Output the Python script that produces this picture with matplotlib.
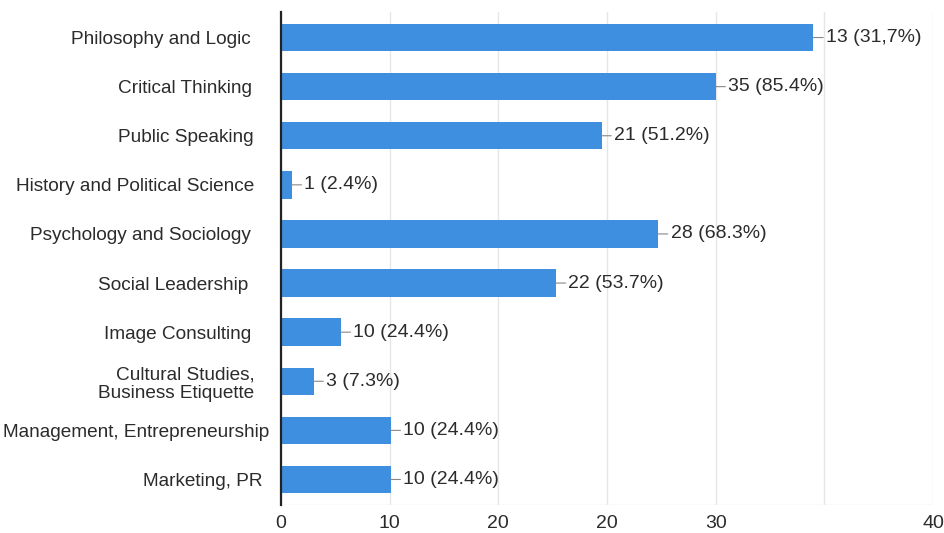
import matplotlib

matplotlib.use("Agg")
import matplotlib.pyplot as plt
import matplotlib.transforms as mtransforms

categories = [
    "Philosophy and Logic",
    "Critical Thinking",
    "Public Speaking",
    "History and Political Science",
    "Psychology and Sociology",
    "Social Leadership",
    "Image Consulting",
    "Cultural Studies,\nBusiness Etiquette",
    "Management, Entrepreneurship",
    "Marketing, PR",
]
# bar lengths as drawn on the axis
bar_values = [49.0, 40.0, 29.5, 1.0, 34.7, 25.3, 5.5, 3.0, 10.1, 10.1]
bar_labels = [
    "13 (31,7%)", "35 (85.4%)", "21 (51.2%)", "1 (2.4%)", "28 (68.3%)",
    "22 (53.7%)", "10 (24.4%)", "3 (7.3%)", "10 (24.4%)", "10 (24.4%)",
]
tick_values = [0, 10, 20, 30, 40, 50, 60]
tick_labels = ["0", "10", "20", "20", "30", "", "40"]
# extra horizontal shift (px) of each category label, to the right
label_shift = [0, 2, 3, 4, 0, -2, 1, 4, 19, 12]

plt.rcParams["font.family"] = ["Liberation Sans", "DejaVu Sans"]
BLUE = "#3f8fe0"
TEXT = "#2b2b2b"

fig = plt.figure(figsize=(9.44, 5.33), dpi=100)
ax = fig.add_axes([281 / 944, 28 / 533, 652 / 944, 493 / 533])

y = list(range(len(categories)))
ax.barh(y, bar_values, height=0.56, color=BLUE, zorder=2)
ax.set_ylim(len(categories) - 0.48, -0.52)
ax.set_xlim(0, 60)

for yi, v, lab in zip(y, bar_values, bar_labels):
    ax.annotate(lab, xy=(v, yi), xytext=(9, 0), textcoords="offset points",
                va="center", ha="left", fontsize=14, color=TEXT,
                arrowprops=dict(arrowstyle="-", color="#888888", lw=0.8,
                                shrinkA=0, shrinkB=0))

ax.set_xticks(tick_values)
ax.set_xticklabels(tick_labels, fontsize=14, color=TEXT)
ax.set_yticks(y)
ax.set_yticklabels(categories, fontsize=13.7, color=TEXT, linespacing=1.1)
ax.tick_params(axis="x", length=0, pad=7)
ax.tick_params(axis="y", length=0, pad=22)
for lbl, dx in zip(ax.get_yticklabels(), label_shift):
    lbl.set_transform(lbl.get_transform() +
                      mtransforms.ScaledTranslation(dx / 100, 0, fig.dpi_scale_trans))

ax.grid(axis="x", color="#e6e6e6", lw=1, zorder=0)
for side in ["top", "right", "bottom"]:
    ax.spines[side].set_visible(False)
ax.axhline(len(categories) - 0.48, color="#e6e6e6", lw=1, zorder=0)
ax.spines["left"].set_color("#222222")
ax.spines["left"].set_linewidth(1.6)
ax.spines["left"].set_zorder(3)

fig.savefig("out.png", dpi=100)
